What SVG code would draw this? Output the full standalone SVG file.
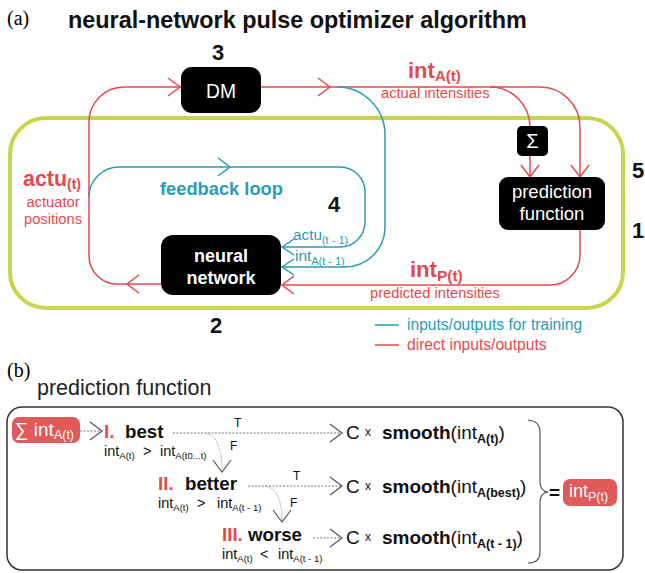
<svg xmlns="http://www.w3.org/2000/svg" xmlns:xlink="http://www.w3.org/1999/xlink" width="645" height="573" viewBox="0 0 645 573">
<style>
text{font-family:"Liberation Sans",Arial,sans-serif}
.serif{font-family:"Liberation Serif","Times New Roman",serif}
.b{font-weight:bold}
.red{stroke:#e5484d;fill:none;stroke-width:1.5}
.teal{stroke:#2a9bb3;fill:none;stroke-width:1.5}
.tr{fill:#e5484d}
.tt{fill:#2a9bb3}
.tw{fill:#fff}
.box{fill:#000}
.dash{stroke:#777;fill:none;stroke-width:1;stroke-dasharray:2 1.5}
.dot{stroke:#888;fill:none;stroke-width:1;stroke-dasharray:1 1}
.chg{stroke:#555;fill:none;stroke-width:1.2}
</style>
<defs>
<path id="chev" d="M -12 -9 L 0 0 L -12 9"/>
<path id="chevs" d="M -12 -8 L 0 0 L -12 8"/>
</defs>

<text class="serif" x="7" y="25" font-size="20">(a)</text>
<text class="b" x="68" y="28" font-size="23.4" fill="#111">neural-network pulse optimizer algorithm</text>

<g id="frame-loop">
<rect x="10" y="118" width="613" height="190" rx="36" fill="none" stroke="#c8d44e" stroke-width="4"/>
</g>

<g id="connectors">
<path class="red" d="M 161 284 H 117 A 28 28 0 0 1 89 256 V 122 A 35 35 0 0 1 124 87 H 181"/>
<use href="#chev" class="red" transform="translate(127,284) rotate(180)"/>
<use href="#chev" class="red" transform="translate(180,87)"/>
<path class="red" d="M 261 87 H 490 A 40 40 0 0 1 530 127"/>
<use href="#chev" class="red" transform="translate(330,87)"/>
<path class="red" d="M 490 87 H 540 A 40 40 0 0 1 580 127 V 177"/>
<use href="#chev" class="red" transform="translate(580,177) rotate(90)"/>
<path class="red" d="M 530 156 V 177"/>
<use href="#chev" class="red" transform="translate(530,177) rotate(90)"/>
<path class="red" d="M 580 230 V 255 A 30 30 0 0 1 550 285 H 282"/>
<use href="#chev" class="red" transform="translate(282,285) rotate(180)"/>
<path class="teal" d="M 337 87 A 48 48 0 0 1 385 135 V 227 A 40 40 0 0 1 345 267 H 282"/>
<use href="#chevs" class="teal" transform="translate(282,267) rotate(180)"/>
<path class="teal" d="M 89 197 A 30 30 0 0 1 119 167 H 340 A 25 25 0 0 1 365 192 V 222 A 25 25 0 0 1 340 247 H 282"/>
<use href="#chev" class="teal" transform="translate(230,167)"/>
<use href="#chevs" class="teal" transform="translate(282,247) rotate(180)"/>
</g>

<g id="dm">
<rect class="box" x="181" y="67" width="80" height="46" rx="11"/>
<text class="tw" x="221" y="98" font-size="19.3" text-anchor="middle">DM</text>
<text class="b" x="218" y="60" font-size="22" text-anchor="middle" fill="#111">3</text>
</g>

<g id="neural-network">
<rect class="box" x="161" y="235" width="120" height="60" rx="12"/>
<text class="tw b" x="221" y="262" font-size="18" text-anchor="middle">neural</text>
<text class="tw b" x="221" y="284" font-size="18" text-anchor="middle">network</text>
<text class="b" x="216" y="333" font-size="22" text-anchor="middle" fill="#111">2</text>
</g>

<g id="sum">
<rect class="box" x="517" y="126" width="31" height="30" rx="5"/>
<text class="tw" x="532.5" y="148" font-size="20" text-anchor="middle">Σ</text>
</g>

<g id="prediction-function">
<rect class="box" x="499" y="177" width="106" height="53" rx="9"/>
<text class="tw" x="552" y="198" font-size="18.5" text-anchor="middle">prediction</text>
<text class="tw" x="552" y="220" font-size="18.5" text-anchor="middle">function</text>
</g>

<g id="labels-a">
<text class="b" x="632" y="178" font-size="22" fill="#111">5</text>
<text class="b" x="632" y="238" font-size="22" fill="#111">1</text>
<text class="b" x="328" y="212" font-size="22" fill="#111">4</text>
<text class="tr b" x="408" y="78" font-size="22">int<tspan font-size="15" dy="3">A(t)</tspan></text>
<text class="tr" x="381" y="98" font-size="14.7">actual intensities</text>
<text class="tr b" x="410" y="277" font-size="22">int<tspan font-size="15.5" dy="4">P(t)</tspan></text>
<text class="tr" x="370" y="298" font-size="14.7">predicted intensities</text>
<text class="tr b" x="23" y="186" font-size="21.4">actu<tspan font-size="14" dy="3">(t)</tspan></text>
<text class="tr" x="53" y="207" font-size="14.7" text-anchor="middle">actuator</text>
<text class="tr" x="53" y="224" font-size="14.7" text-anchor="middle">positions</text>
<text class="tt b" x="160" y="195" font-size="18.3">feedback loop</text>
<text class="tt" x="293" y="240" font-size="15.3">actu<tspan font-size="11" dy="4">(t - 1)</tspan></text>
<text class="tt" x="295" y="261" font-size="15.3">int<tspan font-size="11" dy="4">A(t - 1)</tspan></text>
</g>

<g id="legend">
<path class="teal" d="M 375 325 H 399"/>
<text class="tt" x="407" y="330" font-size="15.6">inputs/outputs for training</text>
<path class="red" d="M 375 345 H 399"/>
<text class="tr" x="407" y="350" font-size="15.6">direct inputs/outputs</text>
</g>

<text class="serif" x="7" y="377" font-size="20">(b)</text>
<text x="37" y="395" font-size="21.5" fill="#222">prediction function</text>

<g id="panel-b">
<rect x="7" y="407" width="616" height="163" rx="15" fill="none" stroke="#333" stroke-width="1.5"/>
</g>

<g id="input-pill">
<rect x="12" y="417" width="68" height="26" rx="7" fill="#e05a5a"/>
<text class="tw" x="15" y="436" font-size="19">∑ int<tspan font-size="12.5" dy="3">A(t)</tspan></text>
</g>

<g id="b-connectors">
<path class="dash" d="M 80 431 H 101"/>
<use href="#chev" class="chg" transform="translate(102,431)"/>
<path class="dash" d="M 173 433 H 341"/>
<use href="#chev" class="chg" transform="translate(342,433)"/>
<path class="dot" d="M 205 433 Q 222 436 222 471"/>
<use href="#chev" class="chg" transform="translate(222,472) rotate(90)"/>
<path class="dash" d="M 248 486 H 341"/>
<use href="#chev" class="chg" transform="translate(342,486)"/>
<path class="dot" d="M 265 486 Q 282 489 282 521"/>
<use href="#chev" class="chg" transform="translate(282,522) rotate(90)"/>
<path class="dash" d="M 313 538 H 341"/>
<use href="#chev" class="chg" transform="translate(342,538)"/>
<path class="chg" d="M 528 420 Q 540 421 540 432 V 482 Q 540 491 548 492 Q 540 493 540 502 V 552 Q 540 563 528 563"/>
</g>

<g id="best">
<text class="b" x="104" y="438" font-size="18.7"><tspan class="tr">I.</tspan><tspan x="125" fill="#111">best</tspan></text>
<text x="104" y="456" font-size="14.5" fill="#111">int<tspan font-size="9.5" dy="3">A(t)</tspan><tspan dy="-3" x="143">&gt;</tspan><tspan x="160">int</tspan><tspan font-size="9.5" dy="3">A(t0...t)</tspan></text>
<text x="234" y="427" font-size="12" fill="#111">T</text>
<text x="230" y="450" font-size="12" fill="#111">F</text>
</g>

<g id="better">
<text class="b" x="158" y="490" font-size="18.7"><tspan class="tr">II.</tspan><tspan x="185" fill="#111">better</tspan></text>
<text x="158" y="508" font-size="14.5" fill="#111">int<tspan font-size="9.5" dy="3">A(t)</tspan><tspan dy="-3" x="197">&gt;</tspan><tspan x="217">int</tspan><tspan font-size="9.5" dy="3">A(t - 1)</tspan></text>
<text x="293" y="480" font-size="12" fill="#111">T</text>
<text x="290" y="507" font-size="12" fill="#111">F</text>
</g>

<g id="worse">
<text class="b" x="222" y="541" font-size="18.7"><tspan class="tr">III.</tspan><tspan x="248" fill="#111">worse</tspan></text>
<text x="222" y="559" font-size="14.5" fill="#111">int<tspan font-size="9.5" dy="3">A(t)</tspan><tspan dy="-3" x="260">&lt;</tspan><tspan x="278">int</tspan><tspan font-size="9.5" dy="3">A(t - 1)</tspan></text>
</g>

<g id="results">
<text x="346" y="439" font-size="19" fill="#111">C <tspan font-size="12" dy="-3">x</tspan><tspan class="b" dy="3" x="382">smooth</tspan>(int<tspan class="b" font-size="12.5" dy="4">A(t)</tspan><tspan dy="-4">)</tspan></text>
<text x="346" y="493" font-size="19" fill="#111">C <tspan font-size="12" dy="-3">x</tspan><tspan class="b" dy="3" x="382">smooth</tspan>(int<tspan class="b" font-size="12.5" dy="4">A(best)</tspan><tspan dy="-4">)</tspan></text>
<text x="346" y="544" font-size="19" fill="#111">C <tspan font-size="12" dy="-3">x</tspan><tspan class="b" dy="3" x="382">smooth</tspan>(int<tspan class="b" font-size="12.5" dy="4">A(t - 1)</tspan><tspan dy="-4">)</tspan></text>
</g>

<g id="output-pill">
<text class="b" x="549" y="499" font-size="19" fill="#111">=</text>
<rect x="563" y="479" width="54" height="27" rx="7" fill="#e05a5a"/>
<text class="tw" x="569" y="497" font-size="18">int<tspan font-size="12.5" dy="4">P(t)</tspan></text>
</g>
</svg>
